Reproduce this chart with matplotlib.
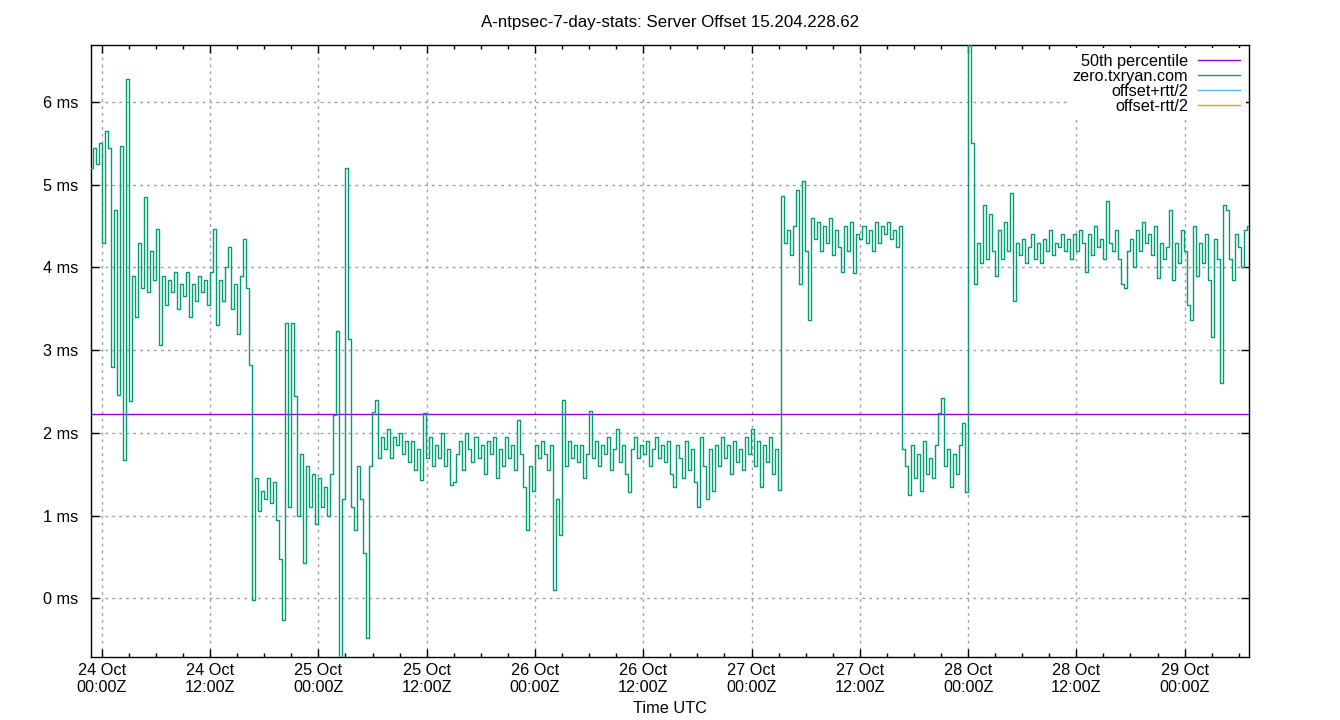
import numpy as np
import matplotlib
matplotlib.use('Agg')
import matplotlib.pyplot as plt
import matplotlib.dates as mdates
from matplotlib.ticker import StrMethodFormatter, MultipleLocator

plt.rcParams['font.family'] = ['Liberation Sans', 'DejaVu Sans']

title = "A-ntpsec-7-day-stats: Server Offset 15.204.228.62"
server = "zero.txryan.com"

# samples every 20 minutes, first one at 23 Oct 22:48 UTC
start = np.datetime64('2023-10-23T22:48')
step_min = 20

# offset in ms (3 per hour)
offset_ms = [
    5.2, 5.45, 5.25, 5.5,
    4.3, 5.65, 5.45,  2.8, 4.7, 2.46,  5.47, 1.67, 6.28,  2.38, 3.9, 3.4,
    4.3, 3.75, 4.85,  3.7, 4.2, 3.85,  4.46, 3.06, 3.9,  3.55, 3.85, 3.7,
    3.95, 3.5, 3.8,  3.65, 3.95, 3.4,  3.8, 3.6, 3.9,  3.7, 3.85, 3.55,
    3.95, 4.46, 3.3,  3.85, 3.6, 4.0,  4.25, 3.5, 3.8,  3.2, 3.9, 4.35,
    3.75, 2.82, -0.02,  1.45, 1.05, 1.3,  1.2, 1.45, 1.15,  1.4, 0.95, 0.47,
    -0.26, 3.33, 1.1,  3.33, 2.44, 1.0,  1.75, 0.43, 1.6,  1.1, 1.5, 0.9,
    1.45, 1.1, 1.35,  1.0, 1.5, 2.22,  3.23, -0.75, 1.2,  5.2, 3.13, 1.1,
    0.83, 1.6, 1.2,  0.55, -0.48, 1.6,  2.25, 2.4, 1.7,  1.95, 1.8, 2.05,
    1.7, 1.95, 1.85,  2.0, 1.75, 1.9,  1.65, 1.9, 1.55,  1.8, 1.43, 2.24,
    1.7, 1.95, 1.6,  1.85, 1.7, 2.0,  1.6, 1.8, 1.37,  1.4, 1.75, 1.9,
    1.55, 2.0, 1.8,  1.65, 1.95, 1.7,  1.85, 1.5, 1.9,  1.75, 1.95, 1.45,
    1.8, 1.6, 1.95,  1.7, 1.85, 1.55,  2.16, 1.75, 1.35,  0.83, 1.6, 1.3,
    1.85, 1.7, 1.9,  1.75, 1.55, 1.85,  0.1, 1.2, 0.77,  2.4, 1.6, 1.9,
    1.7, 1.85, 1.65,  1.85, 1.45, 1.75,  2.26, 1.7, 1.9,  1.6, 1.85, 1.75,
    1.95, 1.55, 1.8,  2.05, 1.65, 1.85,  1.5, 1.29, 1.8,  1.95, 1.7, 1.85,
    1.75, 1.9, 1.6,  1.8, 1.95, 1.7,  1.85, 1.65, 1.9,  1.5, 1.35, 1.85,
    1.7, 1.45, 1.9,  1.55, 1.8, 1.4,  1.1, 1.95, 1.6,  1.2, 1.8, 1.3,
    1.85, 1.6, 1.95,  1.7, 1.85, 1.5,  1.9, 1.65, 1.8,  1.55, 1.95, 1.75,
    2.05, 1.6, 1.9,  1.35, 1.85, 1.65,  1.95, 1.5, 1.8,  1.31, 4.86, 4.3,
    4.45, 4.15, 4.5,  4.94, 3.8, 5.04,  4.2, 3.36, 4.6,  4.35, 4.55, 4.2,
    4.5, 4.3, 4.6,  4.15, 4.45, 4.25,  3.95, 4.5, 4.2,  4.55, 3.93, 4.4,
    4.35, 4.5, 4.3,  4.45, 4.2, 4.55,  4.3, 4.5, 4.4,  4.55, 4.35, 4.45,
    4.25, 4.5, 1.8,  1.6, 1.25, 1.85,  1.45, 1.75, 1.3,  1.9, 1.5, 1.7,
    1.45, 1.85, 2.24,  2.42, 1.6, 1.8,  1.35, 1.75, 1.5,  1.85, 2.12, 1.29,
    7.5, 5.5, 3.8,  4.3, 4.05, 4.75,  4.1, 4.65, 4.2,  3.9, 4.45, 4.1,
    4.55, 4.2, 4.9,  3.6, 4.3, 4.15,  4.35, 4.05, 4.25,  4.4, 4.1, 4.3,
    4.05, 4.35, 4.2,  4.45, 4.15, 4.3,  4.25, 4.4, 4.2,  4.35, 4.1, 4.4,
    4.2, 4.45, 4.3,  3.95, 4.4, 4.15,  4.5, 4.25, 4.35,  4.1, 4.8, 4.3,
    4.2, 4.45, 4.1,  3.8, 3.75, 4.2,  4.35, 4.0, 4.45,  4.2, 4.55, 4.3,
    4.4, 4.15, 4.5,  3.87, 4.3, 4.1,  4.25, 4.7, 3.85,  4.3, 4.05, 4.45,
    4.2, 3.55, 3.37,  4.5, 3.9, 4.3,  4.05, 4.4, 3.85,  3.16, 4.35, 4.1,
    2.6, 4.75, 4.7,  4.1, 3.85, 4.4,  4.25, 4.0, 4.45,
    4.5,
]
median_ms = 2.23

times = start + np.arange(len(offset_ms)) * np.timedelta64(step_min, 'm')

fs = 11.7

fig = plt.figure(figsize=(13.4, 7.2), dpi=100)
ax = fig.add_axes([91 / 1340, 63 / 720, 1158 / 1340, 612 / 720])

ax.axhline(median_ms, color='#9400d3', lw=1, label='50th percentile', zorder=3)
# dense samples in the original read as vertical strokes, steps give that look
ax.plot(times, offset_ms, color='#009e73', lw=1, drawstyle='steps-mid',
        label=server, zorder=4)
# the rtt bounds are in the key but have no samples drawn
ax.plot([], [], color='#56b4e9', lw=1, label='offset+rtt/2')
ax.plot([], [], color='#e69f00', lw=1, label='offset-rtt/2')

ax.set_xlim(times[0], times[-1])
ax.set_ylim(-0.71, 6.69)

ax.xaxis.set_major_locator(mdates.HourLocator(byhour=[0, 12]))
ax.xaxis.set_minor_locator(mdates.HourLocator(byhour=range(0, 24, 3)))
ax.xaxis.set_major_formatter(mdates.DateFormatter('%d %b\n%H:%MZ'))
ax.yaxis.set_major_locator(MultipleLocator(1))
ax.yaxis.set_major_formatter(StrMethodFormatter('{x:.0f} ms'))

ax.tick_params(which='both', direction='in', top=True, right=True,
               labelsize=fs, width=1)
ax.tick_params(which='major', length=6, pad=9)
ax.tick_params(which='minor', length=3)
ax.tick_params(axis='x', which='major', pad=4)
for s in ax.spines.values():
    s.set_linewidth(1)

ax.grid(True, which='major', color='#a0a0a0', lw=1, ls=(0, (2, 3)))
ax.set_axisbelow(True)

ax.set_xlabel('Time UTC', fontsize=fs, labelpad=4)
fig.text(0.5, 1 - 22 / 720, title, ha='center', va='center', fontsize=12.2)

leg = ax.legend(loc='upper right', fontsize=fs, markerfirst=False,
                frameon=True, fancybox=False, edgecolor='none',
                framealpha=1, handlelength=2.6, handletextpad=0.6,
                labelspacing=0.0, borderaxespad=0.2, borderpad=0.35)
for t in leg.get_texts():
    t.set_ha('right')

fig.savefig('out.png', dpi=100)
